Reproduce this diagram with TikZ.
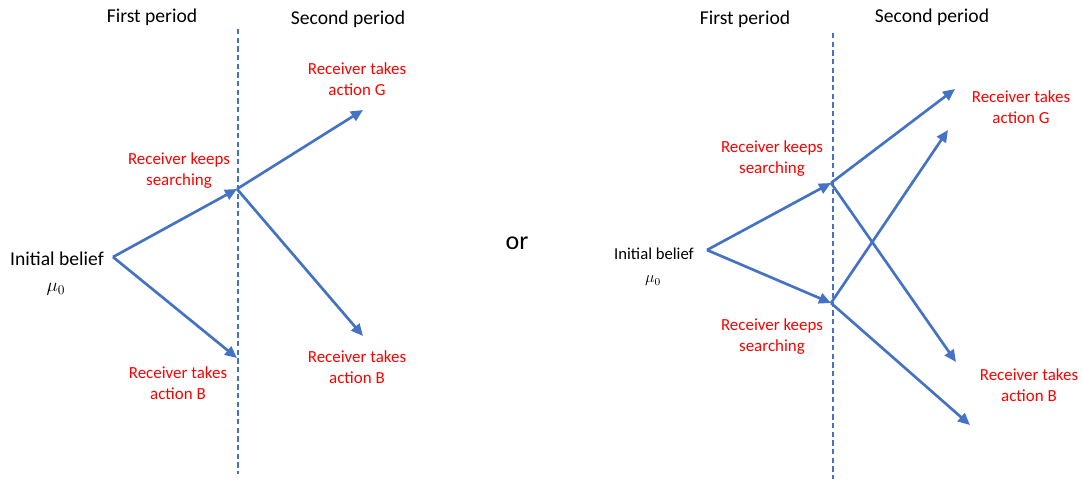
\documentclass[tikz,border=0pt]{standalone}
\usepackage{fontspec}
\setmainfont{Carlito}
\usetikzlibrary{arrows.meta}
\definecolor{arrowblue}{HTML}{4472C4}
\definecolor{lblred}{HTML}{FF0000}
\begin{document}
\begin{tikzpicture}[x=0.75pt,y=-0.75pt,
  conn/.style={draw=arrowblue,line width=2pt,-{Triangle[length=9pt,width=8pt]}},
  divider/.style={draw=arrowblue,line width=0.9pt,dash pattern=on 4pt off 2.5pt},
  redlbl/.style={text=lblred,font=\fontsize{12.7}{15.8}\selectfont,align=center,inner sep=0pt},
  hdr/.style={font=\fontsize{14.7}{17}\selectfont,inner sep=0pt},
  blk/.style={inner sep=0pt}]
\useasboundingbox (0,0) rectangle (1083,479);
% ---------- left panel ----------
\node[hdr] (fp1) at (152,17) {First period};
\node[hdr] (sp1) at (348,19) {Second period};
\coordinate (d1t) at (238,29);
\coordinate (d1b) at (238,474);
\draw[divider] (d1t) -- (d1b);
\node[blk,font=\fontsize{14.7}{17}\selectfont] (ib1) at (57,259) {Initial belief};
\node[blk,font=\fontsize{14}{17}\selectfont] (mu1) at (56,289) {$\mu_0$};
\coordinate (o1) at (113,257);
\coordinate (k1) at (237,189);
\coordinate (b1) at (237,358);
\coordinate (g1e) at (363,110);
\coordinate (b1e) at (363,336);
\draw[conn] (o1) -- (k1);
\draw[conn] (o1) -- (b1);
\draw[conn] (k1) -- (g1e);
\draw[conn] (k1) -- (b1e);
\node[redlbl] (ks1) at (179,171) {Receiver keeps\\searching};
\node[redlbl] (tg1) at (357,79) {Receiver takes\\action G};
\node[redlbl] (tb1) at (357,367) {Receiver takes\\action B};
\node[redlbl] (tb1a) at (178,383) {Receiver takes\\action B};
% ---------- or ----------
\node[blk,font=\fontsize{19.5}{22}\selectfont] (or) at (517,243) {or};
% ---------- right panel ----------
\node[hdr] (fp2) at (745,19) {First period};
\node[hdr] (sp2) at (932,17) {Second period};
\coordinate (d2t) at (833,33);
\coordinate (d2b) at (833,479);
\draw[divider] (d2t) -- (d2b);
\node[blk,font=\fontsize{12.5}{15}\selectfont] (ib2) at (654,254) {Initial belief};
\node[blk,font=\fontsize{12}{15}\selectfont] (mu2) at (653,281) {$\mu_0$};
\coordinate (o2) at (707,250);
\coordinate (k2a) at (831,183);
\coordinate (k2b) at (831,303);
\coordinate (g2a) at (955,89);
\coordinate (b2a) at (956,362);
\coordinate (g2b) at (948,130);
\coordinate (b2b) at (970,425);
\draw[conn] (o2) -- (k2a);
\draw[conn] (o2) -- (k2b);
\draw[conn] (k2a) -- (g2a);
\draw[conn] (k2a) -- (b2a);
\draw[conn] (k2b) -- (g2b);
\draw[conn] (k2b) -- (b2b);
\node[redlbl] (ks2a) at (772,159) {Receiver keeps\\searching};
\node[redlbl] (ks2b) at (772,337) {Receiver keeps\\searching};
\node[redlbl] (tg2) at (1021,107) {Receiver takes\\action G};
\node[redlbl] (tb2) at (1029,385) {Receiver takes\\action B};
\end{tikzpicture}
\end{document}
